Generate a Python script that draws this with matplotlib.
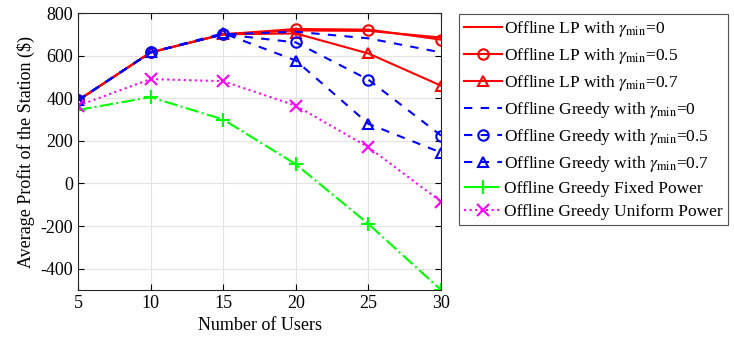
import matplotlib
matplotlib.use("Agg")
import matplotlib.pyplot as plt

plt.rcParams["font.family"] = ["Liberation Serif", "DejaVu Serif"]
plt.rcParams["mathtext.fontset"] = "stix"
plt.rcParams["axes.unicode_minus"] = False

users = [5, 10, 15, 20, 25, 30]

lp_g0 = [390, 615, 700, 718, 716, 685]
lp_g05 = [390, 615, 700, 725, 722, 675]
lp_g07 = [390, 615, 700, 704, 610, 459]
gr_g0 = [390, 615, 700, 712, 681, 615]
gr_g05 = [390, 615, 700, 662, 487, 225]
gr_g07 = [390, 615, 705, 577, 280, 145]
fixed_power = [345, 405, 300, 90, -190, -500]
uniform_power = [365, 490, 480, 365, 170, -85]

labels = [
    r"Offline LP with $\gamma_{\mathrm{min}}$=0",
    r"Offline LP with $\gamma_{\mathrm{min}}$=0.5",
    r"Offline LP with $\gamma_{\mathrm{min}}$=0.7",
    r"Offline Greedy with $\gamma_{\mathrm{min}}$=0",
    r"Offline Greedy with $\gamma_{\mathrm{min}}$=0.5",
    r"Offline Greedy with $\gamma_{\mathrm{min}}$=0.7",
    "Offline Greedy Fixed Power",
    "Offline Greedy Uniform Power",
]

fig = plt.figure(figsize=(7.34, 3.49), dpi=100)
ax = fig.add_axes([78 / 734, 1 - 290 / 349, (441 - 78) / 734, (290 - 13) / 349])

red = "#ff0000"
blue = "#0000ff"
mk = dict(markersize=7.5, markerfacecolor="none", markeredgewidth=1.5)

# LP results
ax.plot(users, lp_g0, "-", color=red, lw=1.5, label=labels[0])
ax.plot(users, lp_g05, "-o", color=red, lw=1.5, label=labels[1], **mk)
ax.plot(users, lp_g07, "-^", color=red, lw=1.5, label=labels[2], **mk)

# greedy results
ax.plot(users, gr_g0, "--", color=blue, lw=1.5, label=labels[3], dashes=(4, 4))
ax.plot(users, gr_g05, "--o", color=blue, lw=1.5, label=labels[4], dashes=(4, 4), **mk)
ax.plot(users, gr_g07, "--^", color=blue, lw=1.5, label=labels[5], dashes=(4, 4), **mk)
ax.plot(users, fixed_power, "-.+", color="#00ff00", lw=1.5, label=labels[6],
        markersize=10, markeredgewidth=1.5)
ax.plot(users, uniform_power, ":x", color="#ff00ff", lw=1.5, label=labels[7],
        markersize=8, markeredgewidth=1.5)

ax.set_xlim(5, 30)
ax.set_ylim(-500, 800)
ax.set_xticks(users)
ax.set_yticks(range(-400, 801, 200))
ax.grid(True, color="#e3e3e3", lw=0.8)
ax.set_axisbelow(True)
ax.tick_params(direction="in", top=True, right=True, labelsize=13, length=4)
for s in ax.spines.values():
    s.set_color("#262626")
    s.set_linewidth(0.8)

ax.set_xlabel("Number of Users", fontsize=13)
ax.set_ylabel("Average Profit of the Station ($)", fontsize=13)

leg = ax.legend(loc="upper left", bbox_to_anchor=(459 / 734, 1 - 14 / 349),
                bbox_transform=fig.transFigure, fontsize=12.5, frameon=True,
                fancybox=False, edgecolor="#262626", handlelength=2.2,
                handletextpad=0.1, labelspacing=0.4, borderpad=0.3,
                borderaxespad=0)
leg.get_frame().set_linewidth(0.8)

fig.savefig("out.png", dpi=100)
